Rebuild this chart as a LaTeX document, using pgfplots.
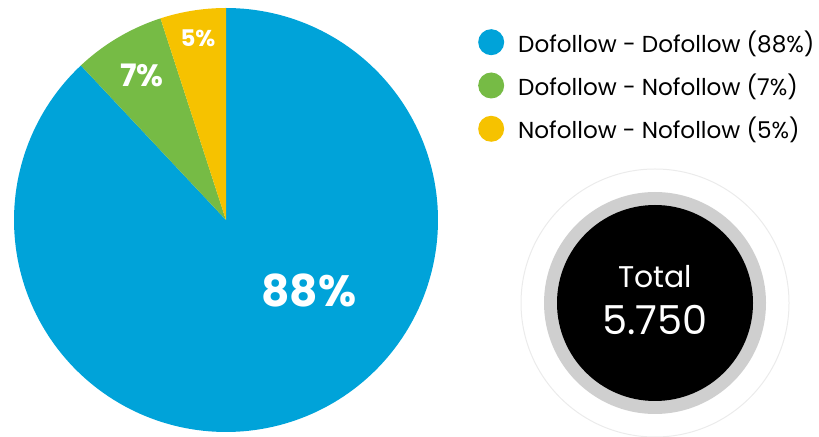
\documentclass[border=0pt]{standalone}
\usepackage{pgfplots}
\pgfplotsset{compat=1.18}
\usepackage{fontspec}
\setmainfont{Poppins}
\definecolor{cblue}{HTML}{00A3D9}
\definecolor{cgreen}{HTML}{76BB45}
\definecolor{cyellow}{HTML}{F6C200}
\definecolor{cring}{HTML}{CFCFCF}
\definecolor{cthin}{HTML}{EBEBEB}
\begin{document}
\begin{tikzpicture}
\def\vA{88}\def\vB{7}\def\vC{5}
\def\cx{226}\def\cy{217}\def\r{212}
\pgfmathsetmacro\aC{90+3.6*\vC}
\pgfmathsetmacro\aB{\aC+3.6*\vB}
\pgfmathsetmacro\aA{\aB+3.6*\vA}
\begin{axis}[width=819bp, height=437bp, scale only axis,
  xmin=0, xmax=819, ymin=0, ymax=437, axis lines=none, ticks=none, clip=false,
  legend style={at={(axis cs:475,410)}, anchor=north west, draw=none, fill=none,
    font=\fontsize{23.2}{27}\selectfont, row sep=17.3bp, cells={anchor=west},
    nodes={inner sep=0pt}},
  legend image code/.code={\fill[#1] (13bp,0bp) circle (13bp); \path (40bp,0bp);}]
\coordinate (bl) at (rel axis cs:0,0);
\coordinate (tr) at (rel axis cs:1,1);
\addplot[draw=none, fill=cblue, domain=\aB:\aA, samples=200, variable=\t]
  ({\cx+\r*cos(\t)},{\cy+\r*sin(\t)}) -- (axis cs:\cx,\cy) -- cycle;
\addplot[draw=none, fill=cgreen, domain=\aC:\aB, samples=40, variable=\t]
  ({\cx+\r*cos(\t)},{\cy+\r*sin(\t)}) -- (axis cs:\cx,\cy) -- cycle;
\addplot[draw=none, fill=cyellow, domain=90:\aC, samples=40, variable=\t]
  ({\cx+\r*cos(\t)},{\cy+\r*sin(\t)}) -- (axis cs:\cx,\cy) -- cycle;
\legend{Dofollow - Dofollow (88\%), Dofollow - Nofollow (7\%), Nofollow - Nofollow (5\%)}
\node[text=white, font=\bfseries\fontsize{44}{44}\selectfont] at (axis cs:309,147) {88\%};
\node[text=white, font=\bfseries\fontsize{31}{31}\selectfont] at (axis cs:142,362) {7\%};
\node[text=white, font=\bfseries\fontsize{23}{23}\selectfont] at (axis cs:198,399) {5\%};
\draw[cthin, line width=1bp] (axis cs:655,134) circle[radius=134];
\fill[cring] (axis cs:655,134) circle[radius=111];
\fill[black] (axis cs:655,134) circle[radius=98];
\node[text=white, font=\fontsize{30}{30}\selectfont] at (axis cs:655,160) {Total};
\node[text=white, font=\fontsize{40}{40}\selectfont] at (axis cs:655,117) {5.750};
\end{axis}
\pgfresetboundingbox
\path (bl) rectangle (tr);
\end{tikzpicture}
\end{document}
